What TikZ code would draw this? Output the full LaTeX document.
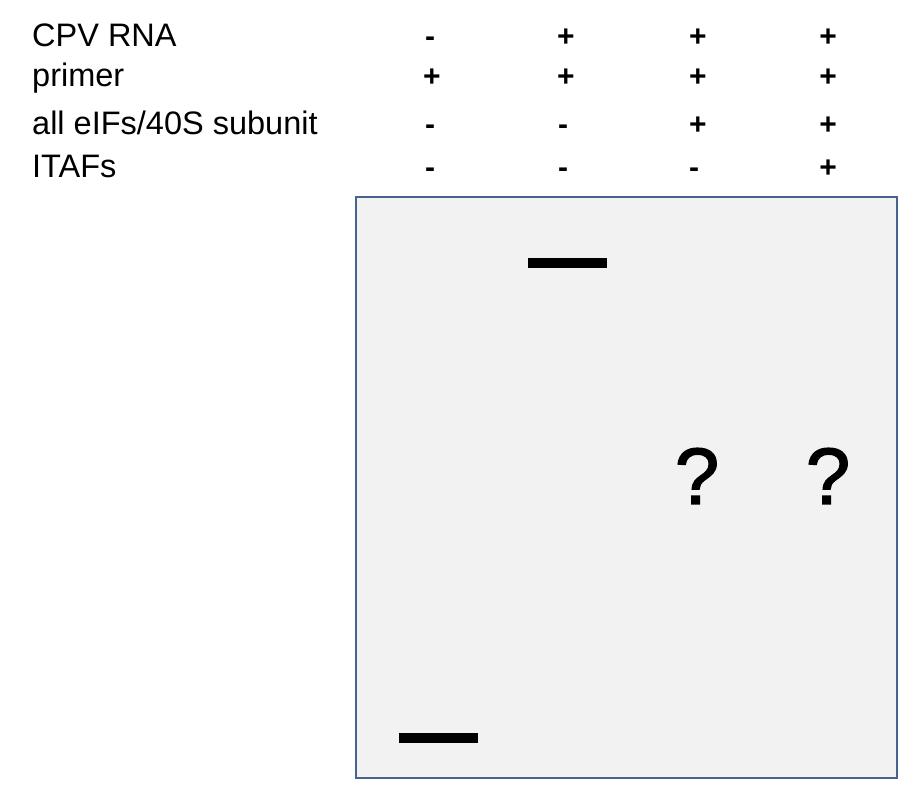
\documentclass[tikz,border=0pt]{standalone}
\usepackage{fontspec}
\setmainfont{Liberation Sans}
\newfontface\qface[FakeBold=1.6]{Liberation Sans}
\definecolor{gelframe}{RGB}{72,98,146}
\definecolor{gelfill}{RGB}{242,242,242}

\begin{document}
\begin{tikzpicture}[x=1pt,y=-1pt,
    lbl/.style={anchor=base west,inner sep=0pt,font=\fontsize{32.5}{38}\selectfont},
    sgn/.style={anchor=base,inner sep=0pt,font=\fontsize{30}{36}\selectfont\bfseries},
    band/.style={fill=black,draw=none},
    qmark/.style={inner sep=0pt,font=\qface\fontsize{80}{96}\selectfont}]
        \useasboundingbox (0,0) rectangle (918,802);
        % row labels
        \node[lbl] (rna)    at (32,47)  {CPV RNA};
        \node[lbl] (primer) at (32,87)  {primer};
        \node[lbl] (eifs)   at (32,135) {all eIFs/40S subunit};
        \node[lbl] (itafs)  at (32,178) {ITAFs};
        % lane 1
        \node[sgn] (a1) at (430,47)  {-};
        \node[sgn] (a2) at (432,87)  {+};
        \node[sgn] (a3) at (430,135) {-};
        \node[sgn] (a4) at (430,178) {-};
        % lane 2
        \node[sgn] (b1) at (566,47)  {+};
        \node[sgn] (b2) at (566,87)  {+};
        \node[sgn] (b3) at (563,135) {-};
        \node[sgn] (b4) at (563,178) {-};
        % lane 3
        \node[sgn] (c1) at (698,47)  {+};
        \node[sgn] (c2) at (698,87)  {+};
        \node[sgn] (c3) at (698,135) {+};
        \node[sgn] (c4) at (694,178) {-};
        % lane 4
        \node[sgn] (d1) at (828,47)  {+};
        \node[sgn] (d2) at (828,87)  {+};
        \node[sgn] (d3) at (828,135) {+};
        \node[sgn] (d4) at (828,178) {+};
        % gel
        \draw [gelframe, fill=gelfill, line width=1.8pt] (356,197) rectangle (897,778);
        \fill [band] (528,258) rectangle (607,268);
        \fill [band] (399,733) rectangle (478,743);
        \node[qmark] (q3) at (697,476) {?};
        \node[qmark] (q4) at (828,476) {?};
    \end{tikzpicture}
\end{document}
